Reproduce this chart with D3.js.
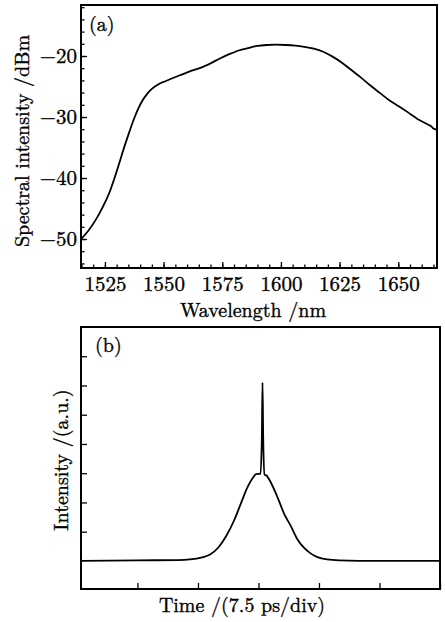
<!DOCTYPE html>
<html>
<head>
<meta charset="utf-8">
<script src="https://cdn.jsdelivr.net/npm/d3@7"></script>
<style>
  body { margin: 0; background: #fff; }
</style>
</head>
<body>
<div id="container"></div>
<script>
// panel (a): spectrum
let wavelength = [1514.8, 1518, 1521, 1524, 1527, 1529, 1531, 1533, 1535, 1537, 1539, 1541,
  1543, 1545, 1548, 1551, 1554, 1558, 1562, 1566, 1570, 1574, 1578, 1582, 1586, 1590, 1594, 1598, 1602, 1606,
  1610, 1614, 1618, 1622, 1626, 1630, 1634, 1638, 1642, 1646, 1650, 1654, 1657, 1659, 1661, 1663, 1664,
  1665, 1666.5];
let spectrum = [-50, -48.6, -46.9, -44.8, -42.3, -40.1, -37.7, -35.2, -32.9, -30.7, -28.8, -27.3,
  -26.2, -25.4, -24.6, -24.1, -23.6, -23.0, -22.4, -21.9, -21.2, -20.4, -19.7, -19.1, -18.7, -18.35, -18.2, -18.15, -18.2, -18.3,
  -18.5, -18.8, -19.3, -20.1, -21.1, -22.3, -23.5, -24.8, -26.0, -27.2, -28.2, -29.2, -30.0, -30.5, -30.9, -31.3, -31.5,
  -31.9, -32.1];
let xTicksA = [1525, 1550, 1575, 1600, 1625, 1650];
let yTicksA = [-50, -40, -30, -20];

// panel (b): autocorrelation trace
let timePs = [-22, -15, -10, -8.5, -7, -6, -5, -4, -3, -2.2, -1.4, -0.6, -0.3, 0.25, 0.42, 0.5, 0.58, 0.75,
  1.0, 1.4, 2.4, 3.2, 4.0, 4.8, 5.6, 6.5, 7.3, 8.5, 10, 15, 22.5];
let intensity = [0, 0.02, 0.03, 0.05, 0.12, 0.22, 0.45, 0.85, 1.4, 1.95, 2.5, 2.88, 2.97, 2.98, 4.3, 6.1, 4.3, 2.95,
  2.92, 2.75, 2.15, 1.6, 1.2, 0.75, 0.46, 0.25, 0.13, 0.05, 0.02, 0, 0];
let xTicksB = [-15, -7.5, 0, 7.5, 15, 22.5];
let yTicksB = [1, 2, 3, 4, 5, 6, 7];

let w = 445;
let h = 622;
let fs = 20;
let font = "'Latin Modern Roman', 'Liberation Serif', serif";

let viz = d3.select("#container")
  .append("svg")
    .attr("width", w)
    .attr("height", h)
    .style("background-color", "#fff")
;

function styleText(sel, size) {
  sel.style("font-family", font)
     .style("font-size", size + "px")
     .attr("fill", "#000")
     .style("stroke", "#000")
     .style("stroke-width", "0.35px");
}

// ---------- (a) ----------
let ax = { left: 81, top: 5, width: 356, height: 263 };

let xA = d3.scaleLinear().domain([1514.8, 1666.5]).range([ax.left, ax.left + ax.width]);
let yA = d3.scaleLinear().domain([-54.75, -11.64]).range([ax.top + ax.height, ax.top]);

// minor ticks
viz.append("g")
    .attr("transform", "translate(" + ax.left + ",0)")
    .call(d3.axisLeft(yA).tickValues(d3.range(-54, -11, 2)).tickSize(-3.5).tickFormat(""))
    .call(g => g.select(".domain").remove())
;
viz.append("g")
    .attr("transform", "translate(0," + (ax.top + ax.height) + ")")
    .call(d3.axisBottom(xA).tickValues(d3.range(1515, 1667, 5)).tickSize(-3.5).tickFormat(""))
    .call(g => g.select(".domain").remove())
;
// major ticks
viz.append("g")
    .attr("transform", "translate(" + ax.left + ",0)")
    .call(d3.axisLeft(yA).tickValues(yTicksA).tickSize(-6).tickPadding(4))
    .call(g => g.select(".domain").remove())
    .selectAll("text").call(styleText, 21)
;
viz.append("g")
    .attr("transform", "translate(0," + (ax.top + ax.height) + ")")
    .call(d3.axisBottom(xA).tickValues(xTicksA).tickSize(-6).tickPadding(8).tickFormat(d3.format("d")))
    .call(g => g.select(".domain").remove())
    .selectAll("text").call(styleText, 21)
;
viz.selectAll(".tick line").attr("stroke-width", 1.3);

viz.append("path")
    .datum(d3.zip(wavelength, spectrum))
    .attr("fill", "none")
    .attr("stroke", "#000")
    .attr("stroke-width", 1.8)
    .attr("d", d3.line().x(d => xA(d[0])).y(d => yA(d[1])).curve(d3.curveMonotoneX))
;

viz.append("rect")
    .attr("x", ax.left).attr("y", ax.top)
    .attr("width", ax.width).attr("height", ax.height)
    .attr("fill", "none").attr("stroke", "#000").attr("stroke-width", 2)
;

viz.append("text")
    .attr("x", 89).attr("y", 31)
    .call(styleText, fs)
    .text("(a)")
;
viz.append("text")
    .attr("transform", "translate(29,141) rotate(-90)")
    .attr("text-anchor", "middle")
    .call(styleText, fs)
    .text("Spectral intensity /dBm")
;
viz.append("text")
    .attr("x", 253).attr("y", 317)
    .attr("text-anchor", "middle")
    .call(styleText, fs)
    .text("Wavelength /nm")
;

// ---------- (b) ----------
let bx = { left: 81, top: 327, width: 359, height: 262 };

let xB = d3.scaleLinear().domain([-22, 22.5]).range([bx.left, bx.left + bx.width]);
let yB = d3.scaleLinear().domain([-0.96, 8.0]).range([bx.top + bx.height, bx.top]);

viz.append("g")
    .attr("transform", "translate(" + bx.left + ",0)")
    .call(d3.axisLeft(yB).tickValues(yTicksB).tickSize(-6).tickFormat(""))
    .call(g => g.select(".domain").remove())
;
viz.append("g")
    .attr("transform", "translate(0," + (bx.top + bx.height) + ")")
    .call(d3.axisBottom(xB).tickValues(xTicksB).tickSize(-6).tickFormat(""))
    .call(g => g.select(".domain").remove())
;
viz.selectAll(".tick line").attr("stroke-width", 1.3);

viz.append("path")
    .datum(d3.zip(timePs, intensity))
    .attr("fill", "none")
    .attr("stroke", "#000")
    .attr("stroke-width", 1.8)
    .attr("stroke-linejoin", "round")
    .attr("d", d3.line().x(d => xB(d[0])).y(d => yB(d[1])).curve(d3.curveMonotoneX))
;

viz.append("rect")
    .attr("x", bx.left).attr("y", bx.top)
    .attr("width", bx.width).attr("height", bx.height)
    .attr("fill", "none").attr("stroke", "#000").attr("stroke-width", 2)
;

viz.append("text")
    .attr("x", 95).attr("y", 352)
    .call(styleText, fs)
    .text("(b)")
;
viz.append("text")
    .attr("transform", "translate(68,460) rotate(-90)")
    .attr("text-anchor", "middle")
    .call(styleText, fs)
    .text("Intensity /(a.u.)")
;
viz.append("text")
    .attr("x", 242).attr("y", 612)
    .attr("text-anchor", "middle")
    .call(styleText, fs)
    .text("Time /(7.5 ps/div)")
;
</script>
</body>
</html>
